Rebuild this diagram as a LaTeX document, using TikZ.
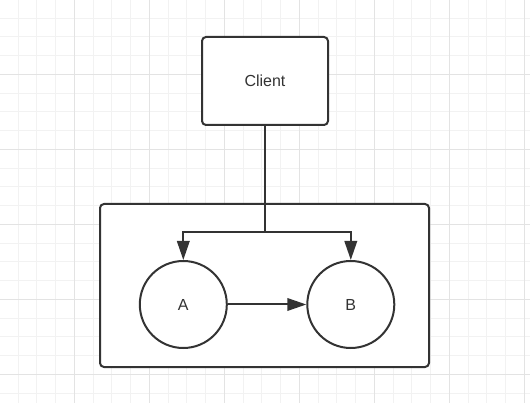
\documentclass[tikz,border=0pt]{standalone}
\usepackage{fontspec}
\setmainfont{Liberation Sans}
\usetikzlibrary{arrows.meta}
\definecolor{linec}{HTML}{333333}
\definecolor{gridminor}{HTML}{F2F2F2}
\definecolor{gridmajor}{HTML}{E3E3E3}
\tikzset{
  box/.style={draw=linec, line width=2pt, rounded corners=4pt, fill=white, rectangle},
  circ/.style={draw=linec, line width=2pt, fill=white, circle, minimum size=87pt, inner sep=0pt},
  lbl/.style={text=linec, font=\fontsize{16}{19}\selectfont},
  conn/.style={draw=linec, line width=2pt},
  arr/.style={conn, -{Triangle[length=19pt, width=12.5pt]}}
}
\begin{document}
\begin{tikzpicture}[x=1pt, y=-1pt]
\useasboundingbox (0,0) rectangle (530,403);
\fill[white] (0,0) rectangle (530,403);
% grid
\foreach \i in {0,...,29} {
  \draw[gridminor, line width=1pt] ({-0.7+18.75*\i},0) -- ({-0.7+18.75*\i},403);
}
\foreach \i in {0,...,22} {
  \draw[gridminor, line width=1pt] (0,{-0.7+18.75*\i}) -- (530,{-0.7+18.75*\i});
}
\foreach \i in {0,...,7} {
  \draw[gridmajor, line width=1pt] ({-0.7+75*\i},0) -- ({-0.7+75*\i},403);
}
\foreach \i in {0,...,5} {
  \draw[gridmajor, line width=1pt] (0,{-0.7+75*\i}) -- (530,{-0.7+75*\i});
}
% nodes
\node[box, minimum width=126pt, minimum height=88pt, lbl] (client) at (265,81) {Client};
\node[box, minimum width=329pt, minimum height=163pt] (container) at (264.5,285.5) {};
\node[circ, lbl] (A) at (183.3,304.5) {A};
\node[circ, lbl] (B) at (350.8,304.5) {B};
\coordinate (j) at (265,232.5);
% connectors
\draw[conn] (client.south) -- (j);
\draw[arr] (j) -| (A.north);
\draw[arr] (j) -| (B.north);
\draw[arr] (A.east) -- (B.west);
\end{tikzpicture}
\end{document}
